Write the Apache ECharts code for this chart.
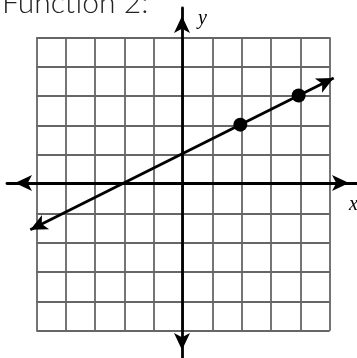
<!DOCTYPE html>
<html>
<head>
<meta charset="utf-8">
<style>
  html, body { margin: 0; padding: 0; background: #fff; }
  #chart { width: 357px; height: 358px; }
</style>
<script src="https://cdn.jsdelivr.net/npm/echarts@6/dist/echarts.min.js"></script>
</head>
<body>
<div id="chart"></div>
<script>
// values
const gridTicks = [-5, 5];          // graph paper spans -5..5
const axisRange = [-6, 6];          // axes run a bit past the paper
const points = [[2, 2], [4, 3]];    // the two dots
const lineEnds = [[-5.2, -1.6], [5.2, 3.6]]; // arrow tips of the line

const chart = echarts.init(document.getElementById('chart'));

const unit = 352 / 12;
const paperLeft = 7 + unit * (gridTicks[0] - axisRange[0]);
const paperTop = 8 + unit * (axisRange[1] - gridTicks[1]);

const arrowAxis = {
    onZero: true,
    lineStyle: { color: '#000', width: 2.8 },
    symbol: ['arrow', 'arrow'], symbolSize: [12, 17], symbolOffset: [8, -8]
};
const paperLines = { show: true, lineStyle: { color: '#666', width: 1.8 } };

chart.setOption({
    animation: false,
    grid: [
        { left: 7, top: 8, width: 352, height: 352 },
        { left: paperLeft, top: paperTop, width: unit * 10, height: unit * 10 }
    ],
    xAxis: [
        {
            gridIndex: 0, type: 'value', min: axisRange[0], max: axisRange[1], interval: 1,
            axisLine: arrowAxis,
            axisTick: { show: false }, axisLabel: { show: false }, splitLine: { show: false }
        },
        {
            gridIndex: 1, type: 'value', min: gridTicks[0], max: gridTicks[1], interval: 1,
            axisLine: { show: false }, axisTick: { show: false }, axisLabel: { show: false },
            splitLine: paperLines
        }
    ],
    yAxis: [
        {
            gridIndex: 0, type: 'value', min: axisRange[0], max: axisRange[1], interval: 1,
            axisLine: arrowAxis,
            axisTick: { show: false }, axisLabel: { show: false }, splitLine: { show: false }
        },
        {
            gridIndex: 1, type: 'value', min: gridTicks[0], max: gridTicks[1], interval: 1,
            axisLine: { show: false }, axisTick: { show: false }, axisLabel: { show: false },
            splitLine: paperLines
        }
    ],
    series: [
        {
            type: 'line', xAxisIndex: 0, yAxisIndex: 0, data: [], z: 5,
            markLine: {
                silent: true, symbol: ['arrow', 'arrow'], symbolSize: [12, 17],
                label: { show: false },
                lineStyle: { color: '#000', width: 2.8, type: 'solid' },
                emphasis: { disabled: true },
                data: [[{ coord: lineEnds[0] }, { coord: lineEnds[1] }]]
            }
        },
        {
            type: 'scatter', xAxisIndex: 0, yAxisIndex: 0, z: 6,
            data: points, symbolSize: 14, itemStyle: { color: '#000', opacity: 1 }
        }
    ],
    graphic: [
        { type: 'text', x: 2, y: -12,
          style: { text: 'Function 2:', font: '300 30px Lato', fill: '#222' } },
        { type: 'text', x: 198, y: 9,
          style: { text: 'y', font: 'italic 20px "Liberation Serif"', fill: '#000' } },
        { type: 'text', x: 349, y: 195,
          style: { text: 'x', font: 'italic 20px "Liberation Serif"', fill: '#000' } }
    ]
});
</script>
</body>
</html>
